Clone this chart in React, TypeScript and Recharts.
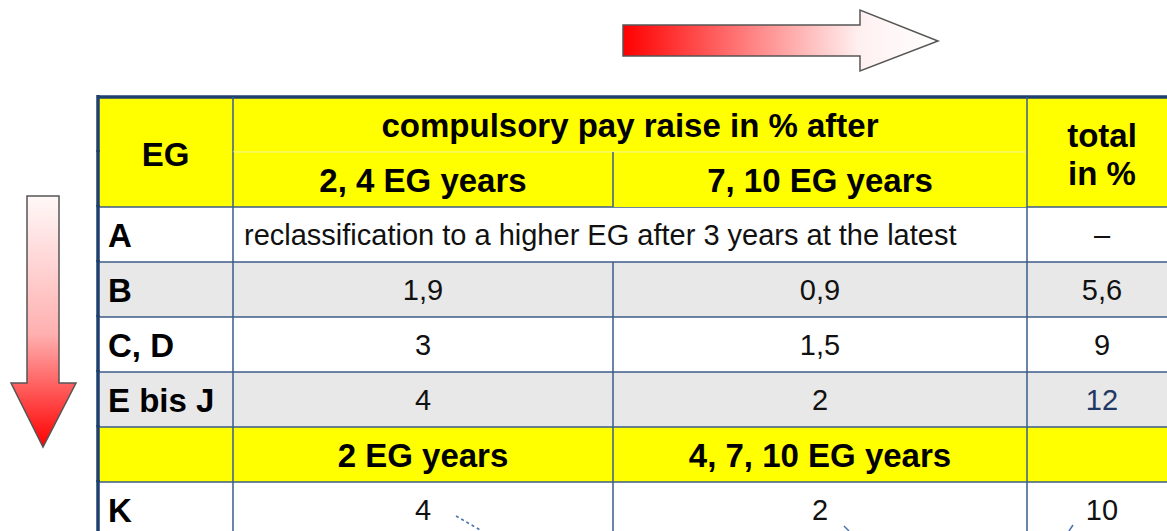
import React from "react";
import { BarChart, Bar, XAxis, YAxis } from "recharts";

// table content
const groups = ["A", "B", "C, D", "E bis J", "K"];
const firstRaise = [null, 1.9, 3, 4, 4];
const laterRaise = [null, 0.9, 1.5, 2, 2];
const totalRaise = [null, 5.6, 9, 12, 10];
const firstSteps = ["2, 4 EG years", "2 EG years"];
const laterSteps = ["7, 10 EG years", "4, 7, 10 EG years"];
const headerTitle = "compulsory pay raise in % after";
const headerTotal = ["total", "in %"];
const noteA = "reclassification to a higher EG after 3 years at the latest";
const highlightGroup = "E bis J";

// layout
const COL = { eg: 135, c1: 380, c2: 414, tot: 150 };
const TABLE_W = COL.eg + COL.c1 + COL.c2 + COL.tot;
const YELLOW = "#ffff00";
const GREY = "#e8e8e8";
const LINE = "#3b5d88";
const OUTER = "#1f3f6e";
const FONT = "'Liberation Sans', Arial, sans-serif";

type Row = {
  key: string;
  kind: "title" | "steps" | "note" | "group";
  label?: string;
  c1?: string;
  c2?: string;
  tot?: string;
  shaded?: boolean;
  highlight?: boolean;
};

const fmt = (v: number | null) => (v == null ? "" : String(v).replace(".", ","));

const groupRow = (i: number): Row => ({
  key: groups[i],
  kind: firstRaise[i] == null ? "note" : "group",
  label: groups[i],
  c1: firstRaise[i] == null ? noteA : fmt(firstRaise[i]),
  c2: fmt(laterRaise[i]),
  tot: totalRaise[i] == null ? "–" : fmt(totalRaise[i]),
  shaded: i % 2 === 1,
  highlight: groups[i] === highlightGroup,
});

const rows: Row[] = [
  { key: "h1", kind: "title" },
  { key: "h2", kind: "steps", c1: firstSteps[0], c2: laterSteps[0] },
  groupRow(0),
  groupRow(1),
  groupRow(2),
  groupRow(3),
  { key: "h3", kind: "steps", c1: firstSteps[1], c2: laterSteps[1] },
  groupRow(4),
];

type Col = "eg" | "c1" | "c2" | "tot";

const makeCell = (col: Col) => (props: any) => {
  const { x, y, width, height, payload, index } = props;
  const r: Row = payload;
  if (!width || width <= 0) return <g />;
  const head = r.kind === "title" || r.kind === "steps";
  const fill = head ? YELLOW : r.shaded ? GREY : "#ffffff";
  const cx = x + width / 2;
  const cy = y + height / 2;
  const bold = { fontFamily: FONT, fontWeight: 700, fontSize: 33, fill: "#000" };
  const plain = { fontFamily: FONT, fontSize: 29, fill: "#111" };

  // borders: each cell draws its left and top edge
  const underTitle = index === 1;
  let top: React.ReactNode = null;
  if (index === 0) {
    top = <line x1={x} x2={x + width} y1={y} y2={y} stroke={OUTER} strokeWidth={3.5} />;
  } else if (underTitle) {
    if (col === "c1" || col === "c2")
      top = <line x1={x} x2={x + width} y1={y} y2={y} stroke="#f4f4a8" strokeWidth={1} />;
  } else {
    top = <line x1={x} x2={x + width} y1={y} y2={y} stroke={LINE} strokeWidth={1.5} />;
  }
  let left: React.ReactNode = null;
  if (col === "eg") {
    left = <line x1={x} x2={x} y1={y - 2} y2={y + height} stroke={OUTER} strokeWidth={3.5} />;
  } else if (!(col === "c2" && index === 0)) {
    left = <line x1={x} x2={x} y1={y} y2={y + height} stroke={LINE} strokeWidth={1.5} />;
  }

  // merged header cells (EG, total) get their text from the cell below the title
  let text: React.ReactNode = null;
  if (col === "eg") {
    if (underTitle)
      text = (
        <text x={cx} y={y + 14} textAnchor="middle" {...bold}>
          EG
        </text>
      );
    else if (r.label)
      text = (
        <text x={x + 10} y={cy + 12} {...bold}>
          {r.label}
        </text>
      );
  } else if (col === "c1" && r.kind === "title") {
    text = (
      <text x={cx} y={cy + 12} textAnchor="middle" {...bold}>
        {headerTitle}
      </text>
    );
  } else if (col === "c1" && r.kind === "note") {
    text = (
      <text x={x + 11} y={cy + 10} {...plain}>
        {r.c1}
      </text>
    );
  } else if (col === "c1" || col === "c2") {
    const v = col === "c1" ? r.c1 : r.c2;
    text = (
      <text x={cx} y={cy + (head ? 12 : 10)} textAnchor="middle" {...(head ? bold : plain)}>
        {v}
      </text>
    );
  } else if (col === "tot") {
    if (underTitle)
      text = (
        <g>
          <text x={cx} y={y - 5} textAnchor="middle" {...bold}>
            {headerTotal[0]}
          </text>
          <text x={cx} y={y + 33} textAnchor="middle" {...bold}>
            {headerTotal[1]}
          </text>
        </g>
      );
    else if (r.tot)
      text = (
        <text
          x={cx}
          y={cy + 10}
          textAnchor="middle"
          {...plain}
          fill={r.highlight ? "#1f3864" : "#111"}
        >
          {r.tot}
        </text>
      );
  }

  return (
    <g>
      <rect x={x} y={y} width={width} height={height} fill={fill} />
      {top}
      {left}
      {text}
    </g>
  );
};

const Arrows = () => (
  <svg
    width={1167}
    height={531}
    style={{ position: "absolute", left: 0, top: 0, pointerEvents: "none" }}
  >
    <defs>
      <linearGradient id="gRight" x1="0" y1="0" x2="1" y2="0">
        <stop offset="0" stopColor="#ff0000" />
        <stop offset="0.75" stopColor="#fff0f0" />
        <stop offset="1" stopColor="#ffffff" />
      </linearGradient>
      <linearGradient id="gDown" x1="0" y1="0" x2="0" y2="1">
        <stop offset="0" stopColor="#fff8f8" />
        <stop offset="0.55" stopColor="#ffb0b0" />
        <stop offset="1" stopColor="#ff0000" />
      </linearGradient>
    </defs>
    <path
      d="M623,25 L860,25 L860,10 L938,41 L860,71 L860,56 L623,56 Z"
      fill="url(#gRight)"
      stroke="#555"
      strokeWidth={1.5}
    />
    <path
      d="M27,196 L59,196 L59,383 L76,383 L43,447 L11,383 L27,383 Z"
      fill="url(#gDown)"
      stroke="#555"
      strokeWidth={1.5}
    />
    <line x1={456} y1={516} x2={482} y2={531} stroke="#4a72b0" strokeWidth={1.5} strokeDasharray="3 3" />
    <line x1={844} y1={526} x2={849} y2={531} stroke="#4a72b0" strokeWidth={1.5} />
    <line x1={1069} y1={531} x2={1073} y2={525} stroke="#4a72b0" strokeWidth={1.5} />
  </svg>
);

export default function App() {
  const chartW = 1200;
  const chartH = 540;
  return (
    <div
      style={{
        position: "fixed",
        left: 0,
        top: 0,
        width: 1167,
        height: 531,
        overflow: "hidden",
        background: "#fff",
      }}
    >
      <BarChart
        width={chartW}
        height={chartH}
        data={rows}
        layout="vertical"
        barCategoryGap={0}
        barGap={0}
        margin={{ top: 97, left: 98, right: chartW - 98 - TABLE_W, bottom: 3 }}
      >
        <XAxis type="number" hide domain={[0, TABLE_W]} />
        <YAxis type="category" dataKey="key" hide />
        <Bar stackId="t" dataKey={() => COL.eg} shape={makeCell("eg")} isAnimationActive={false} />
        <Bar
          stackId="t"
          dataKey={(r: Row) => (r.kind === "title" || r.kind === "note" ? COL.c1 + COL.c2 : COL.c1)}
          shape={makeCell("c1")}
          isAnimationActive={false}
        />
        <Bar
          stackId="t"
          dataKey={(r: Row) => (r.kind === "title" || r.kind === "note" ? 0 : COL.c2)}
          shape={makeCell("c2")}
          isAnimationActive={false}
        />
        <Bar stackId="t" dataKey={() => COL.tot} shape={makeCell("tot")} isAnimationActive={false} />
      </BarChart>
      <Arrows />
    </div>
  );
}
